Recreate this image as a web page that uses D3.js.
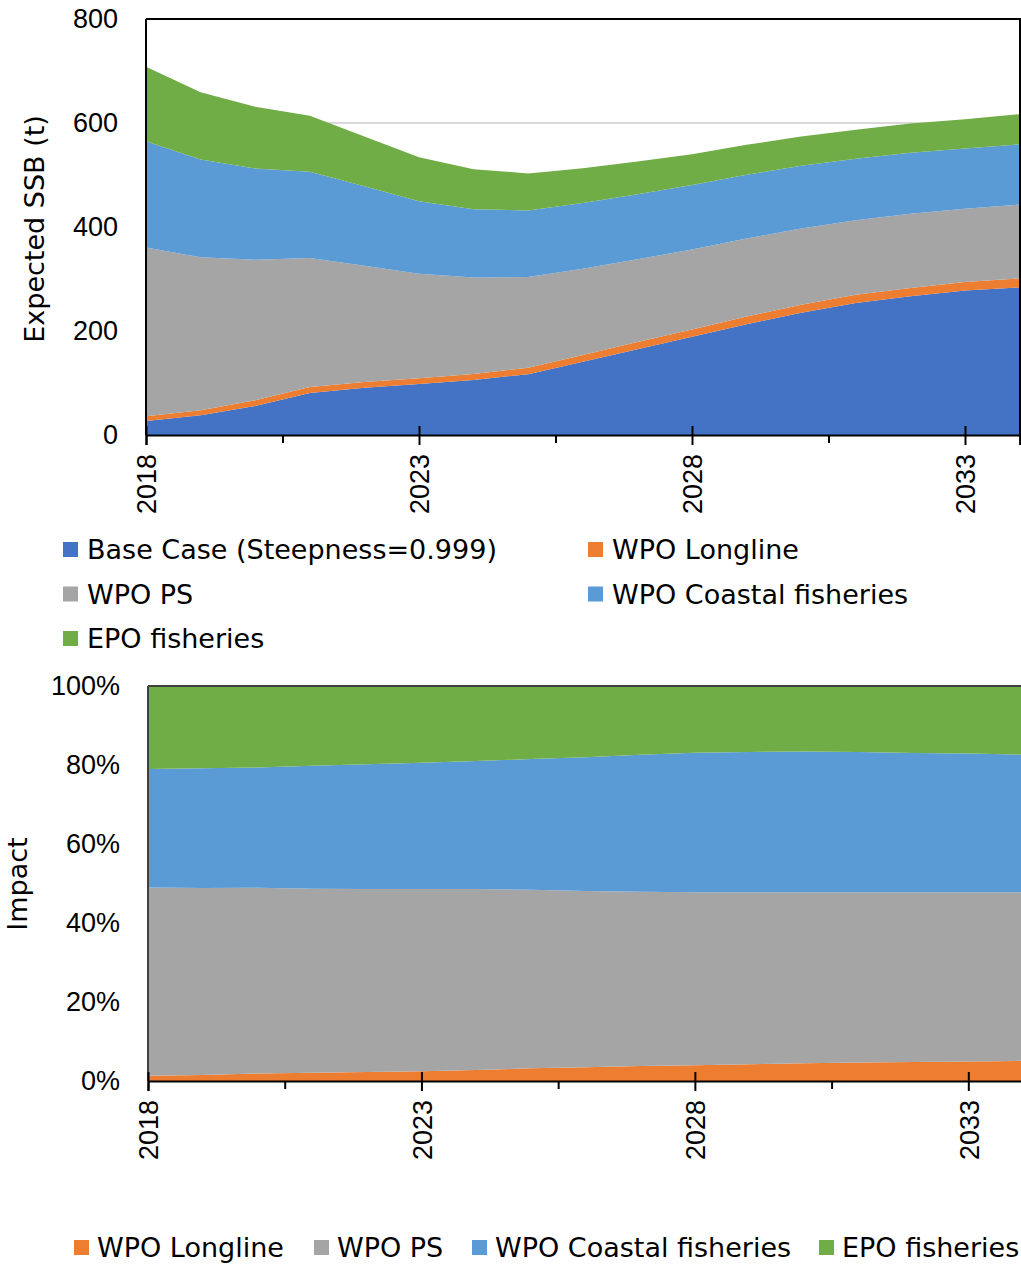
<!DOCTYPE html>
<html>
<head>
<meta charset="utf-8">
<script src="https://cdn.jsdelivr.net/npm/d3@7"></script>
<style>
  body { margin: 0; background: #fff; }
  svg { display: block; font-family: "DejaVu Sans", Verdana, sans-serif; }
</style>
</head>
<body>
<svg id="chart" width="1021" height="1264"></svg>
<script>
// values (t)
var years = [2018, 2019, 2020, 2021, 2022, 2023, 2024, 2025, 2026, 2027, 2028, 2029, 2030, 2031, 2032, 2033, 2034];
var baseCase = [27, 38, 56, 81, 91, 98, 106, 117, 141, 165, 189, 213, 235, 254, 267, 278, 284];
var wpoLongline = [9.2, 9.6, 10.9, 11.2, 11.1, 10.9, 11.3, 12.4, 13.0, 13.7, 14.0, 14.7, 15.3, 15.5, 15.9, 16.3, 17.0];
var wpoPS = [324.5, 294.0, 270.3, 248.4, 223.6, 201.0, 185.5, 174.5, 165.9, 159.2, 153.7, 150.2, 146.8, 143.7, 142.8, 141.0, 142.2];
var wpoCoastal = [204.3, 188.2, 175.4, 165.8, 152.6, 139.5, 131.2, 127.8, 126.1, 125.3, 123.9, 122.5, 120.7, 118.2, 116.9, 115.5, 115.9];
var epoFisheries = [143.0, 129.2, 118.5, 107.7, 95.6, 84.6, 77.0, 71.4, 67.0, 62.8, 59.3, 57.6, 56.3, 55.6, 56.4, 56.3, 57.9];

var seriesNames = ["Base Case (Steepness=0.999)", "WPO Longline", "WPO PS", "WPO Coastal fisheries", "EPO fisheries"];
var seriesColors = ["#4472C4", "#ED7D31", "#A5A5A5", "#5B9BD5", "#70AD47"];
var ssbTicks = [0, 200, 400, 600, 800];
var pctTicks = [0, 0.2, 0.4, 0.6, 0.8, 1];
var yearLabels = [2018, 2023, 2028, 2033];
var minorTicks = [2020.5, 2025.5, 2030.5];

var allSeries = [baseCase, wpoLongline, wpoPS, wpoCoastal, epoFisheries];
var rows = years.map(function (yr, i) {
    var r = { year: yr };
    seriesNames.forEach(function (n, k) { r[n] = allSeries[k][i]; });
    return r;
});

var svg = d3.select("#chart");
var fontSize = "27px";

// x axis: major ticks cross the axis line, minor ticks hang below it
function drawXAxis(g, x, yPos) {
    var major = g.append("g")
        .attr("transform", "translate(0," + yPos + ")")
        .call(d3.axisBottom(x).tickValues(yearLabels).tickSize(10).tickFormat(d3.format("d")));
    major.select(".domain").attr("stroke", "#000").attr("stroke-width", 2);
    major.selectAll(".tick line").attr("y1", -9).attr("stroke", "#000").attr("stroke-width", 2);
    major.selectAll(".tick text")
        .attr("transform", "rotate(-90)")
        .attr("text-anchor", "end")
        .attr("x", -19).attr("y", 0).attr("dy", "0.36em")
        .style("font-size", fontSize).attr("fill", "#000");

    var minor = g.append("g")
        .attr("transform", "translate(0," + yPos + ")")
        .call(d3.axisBottom(x).tickValues(minorTicks).tickSize(8).tickFormat(""));
    minor.select(".domain").remove();
    minor.selectAll(".tick line").attr("stroke", "#000").attr("stroke-width", 2);
}

function drawYLabels(g, y, ticks, xPos, fmt) {
    var ax = g.append("g")
        .attr("transform", "translate(" + xPos + ",0)")
        .call(d3.axisLeft(y).tickValues(ticks).tickSize(0).tickPadding(28).tickFormat(fmt));
    ax.select(".domain").remove();
    ax.selectAll(".tick text").style("font-size", fontSize).attr("fill", "#000");
}

// ---------------- top chart: stacked SSB ----------------
var box1 = { left: 146, right: 1020, top: 19, bottom: 435 };
var xTop = d3.scaleLinear().domain([2018, 2034]).range([146, 1019.6]);
var yTop = d3.scaleLinear().domain([0, 800]).range([box1.bottom, box1.top]);

var gTop = svg.append("g");

gTop.append("line")
    .attr("x1", box1.left).attr("x2", box1.right)
    .attr("y1", yTop(600)).attr("y2", yTop(600))
    .attr("stroke", "#d9d9d9").attr("stroke-width", 2);

var stackTop = d3.stack().keys(seriesNames)(rows);
var areaTop = d3.area()
    .x(function (d) { return xTop(d.data.year); })
    .y0(function (d) { return yTop(d[0]); })
    .y1(function (d) { return yTop(d[1]); });

gTop.selectAll("path.layer")
    .data(stackTop)
    .enter().append("path")
    .attr("class", "layer")
    .attr("d", areaTop)
    .attr("fill", function (d, i) { return seriesColors[i]; });

// frame
gTop.append("path")
    .attr("d", "M" + box1.left + "," + box1.top + "H" + box1.right + "V" + box1.bottom)
    .attr("fill", "none").attr("stroke", "#000").attr("stroke-width", 2);
gTop.append("line")
    .attr("x1", box1.left).attr("x2", box1.left)
    .attr("y1", box1.top).attr("y2", box1.bottom)
    .attr("stroke", "#000").attr("stroke-width", 2);

drawYLabels(gTop, yTop, ssbTicks, box1.left, d3.format("d"));
drawXAxis(gTop, xTop, box1.bottom);

gTop.append("text")
    .attr("transform", "translate(44,229) rotate(-90)")
    .attr("text-anchor", "middle")
    .style("font-size", fontSize)
    .text("Expected SSB (t)");

// top legend: two columns
var legTop = gTop.selectAll("g.legTop")
    .data(seriesNames)
    .enter().append("g")
    .attr("class", "legTop")
    .attr("transform", function (d, i) {
        var col = i % 2, row = Math.floor(i / 2);
        return "translate(" + (col === 0 ? 63 : 588) + "," + (550 + row * 44.5) + ")";
    });
legTop.append("rect")
    .attr("x", 0).attr("y", -8).attr("width", 15).attr("height", 15)
    .attr("fill", function (d, i) { return seriesColors[i]; });
legTop.append("text")
    .attr("x", 24).attr("dy", "0.35em")
    .style("font-size", fontSize)
    .text(function (d) { return d; });

// ---------------- bottom chart: share of impact ----------------
var impactNames = seriesNames.slice(1);
var impactColors = seriesColors.slice(1);
var box2 = { left: 148, right: 1024, top: 686, bottom: 1081 };
var xBot = d3.scaleLinear().domain([2018, 2034]).range([148, 1023]);
var yBot = d3.scaleLinear().domain([0, 1]).range([box2.bottom, box2.top]);

var gBot = svg.append("g");
var stackBot = d3.stack().keys(impactNames).offset(d3.stackOffsetExpand)(rows);
var areaBot = d3.area()
    .x(function (d) { return xBot(d.data.year); })
    .y0(function (d) { return yBot(d[0]); })
    .y1(function (d) { return yBot(d[1]); });

gBot.selectAll("path.layer")
    .data(stackBot)
    .enter().append("path")
    .attr("class", "layer")
    .attr("d", areaBot)
    .attr("fill", function (d, i) { return impactColors[i]; });

gBot.append("line")
    .attr("x1", box2.left).attr("x2", box2.right)
    .attr("y1", box2.top).attr("y2", box2.top)
    .attr("stroke", "#404040").attr("stroke-width", 2);
gBot.append("line")
    .attr("x1", box2.left).attr("x2", box2.left)
    .attr("y1", box2.top).attr("y2", box2.bottom)
    .attr("stroke", "#404040").attr("stroke-width", 2);

drawYLabels(gBot, yBot, pctTicks, box2.left, d3.format(".0%"));
drawXAxis(gBot, xBot, box2.bottom);

gBot.append("text")
    .attr("transform", "translate(27,884) rotate(-90)")
    .attr("text-anchor", "middle")
    .style("font-size", fontSize)
    .text("Impact");

// bottom legend: one row
var legX = [74, 314, 472, 819];
var legBot = gBot.selectAll("g.legBot")
    .data(impactNames)
    .enter().append("g")
    .attr("class", "legBot")
    .attr("transform", function (d, i) { return "translate(" + legX[i] + ",1248)"; });
legBot.append("rect")
    .attr("x", 0).attr("y", -8).attr("width", 15).attr("height", 15)
    .attr("fill", function (d, i) { return impactColors[i]; });
legBot.append("text")
    .attr("x", 23).attr("dy", "0.35em")
    .style("font-size", fontSize)
    .text(function (d) { return d; });
</script>
</body>
</html>
